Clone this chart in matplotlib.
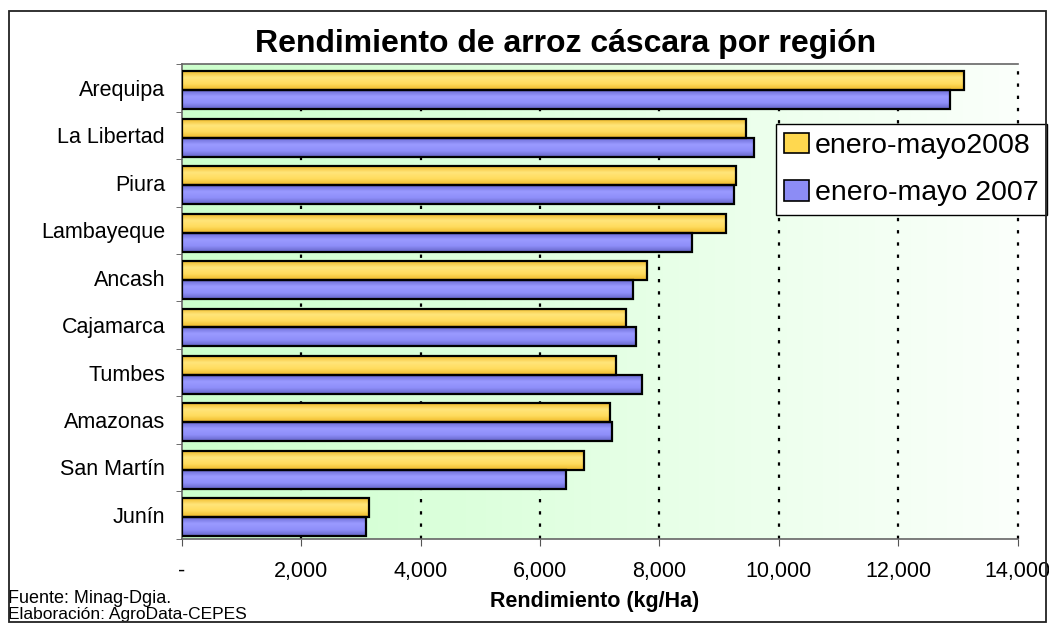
import numpy as np
import matplotlib
matplotlib.use("Agg")
import matplotlib.pyplot as plt
from matplotlib.colors import LinearSegmentedColormap
from matplotlib.patches import Rectangle

plt.rcParams['font.family'] = ['Liberation Sans', 'DejaVu Sans']

# datos (kg/Ha)
regiones = ['Arequipa', 'La Libertad', 'Piura', 'Lambayeque', 'Ancash',
            'Cajamarca', 'Tumbes', 'Amazonas', 'San Martín', 'Junín']
rend_2008 = [13100, 9450, 9280, 9110, 7800, 7440, 7270, 7170, 6740, 3140]
rend_2007 = [12860, 9590, 9250, 8540, 7560, 7610, 7700, 7210, 6430, 3080]
serie_2008 = 'enero-mayo2008'
serie_2007 = 'enero-mayo 2007'
xticks = [0, 2000, 4000, 6000, 8000, 10000, 12000, 14000]
xticklabels = ['-', '2,000', '4,000', '6,000', '8,000', '10,000', '12,000', '14,000']

fig = plt.figure(figsize=(10.49, 6.24), dpi=100)
ax = fig.add_axes([0.1732, 0.137, 0.797, 0.760])

y = np.arange(len(regiones))
h = 0.4
off = 0.05

# fondo degradado verde -> blanco
bg = LinearSegmentedColormap.from_list('bg', ['#ccffcc', '#fbfffb'])
ax.imshow(np.linspace(0, 1, 256).reshape(1, -1), cmap=bg, aspect='auto',
          extent=[0, 14000, len(regiones) - 0.5, -0.5], zorder=0)

for xv in xticks[1:]:
    ax.axvline(xv, color='black', lw=1.6, dashes=(1.5, 4), zorder=1, clip_on=False)

cmap_y = LinearSegmentedColormap.from_list('am', ['#f2bd2c', '#ffe57a', '#ffdc5e', '#eeb928'])
cmap_p = LinearSegmentedColormap.from_list('mo', ['#6c6cd6', '#9a9aff', '#8f8ffa', '#6565c8'])
grad = np.linspace(0, 1, 64).reshape(-1, 1)

b1 = ax.barh(y - h / 2 + off, rend_2008, height=h, facecolor='none',
             edgecolor='black', lw=1.6, zorder=3, label=serie_2008)
b2 = ax.barh(y + h / 2 + off, rend_2007, height=h, facecolor='none',
             edgecolor='black', lw=1.6, zorder=3, label=serie_2007)
for bars, cm in ((b1, cmap_y), (b2, cmap_p)):
    for r in bars:
        x0, y0 = r.get_x(), r.get_y()
        im = ax.imshow(grad, cmap=cm, aspect='auto', zorder=2,
                       extent=[x0, x0 + r.get_width(), y0 + r.get_height(), y0])
        im.set_clip_path(r)

ax.set_xlim(0, 14000)
ax.set_ylim(len(regiones) - 0.5, -0.5)

ax.set_xticks(xticks)
ax.set_xticklabels(xticklabels, fontsize=15.5)
ax.set_yticks(y)
ax.set_yticklabels(regiones, fontsize=15.5)
ax.set_yticks(np.arange(len(regiones) + 1) - 0.5, minor=True)
ax.tick_params(axis='y', which='major', length=0, pad=12)
ax.tick_params(axis='y', which='minor', length=4, color='#555555')
ax.tick_params(axis='x', length=5, color='#555555', pad=11)

for s in ['top', 'left', 'bottom']:
    ax.spines[s].set_color('#666666')
    ax.spines[s].set_linewidth(1.2)
ax.spines['right'].set_visible(False)

fig.text(0.539, 1 - 52 / 624, 'Rendimiento de arroz cáscara por región',
         fontsize=23, fontweight='bold', ha='center', va='baseline')
fig.text(0.567, 1 - 607 / 624, 'Rendimiento (kg/Ha)', fontsize=15.5,
         fontweight='bold', ha='center', va='baseline')
fig.text(0.008, 1 - 603 / 624, 'Fuente: Minag-Dgia.', fontsize=13, va='baseline')
fig.text(0.008, 1 - 607 / 624, 'Elaboración: AgroData-CEPES', fontsize=12.5, va='top')

leg = fig.legend(handles=[b1, b2], loc='upper left', bbox_to_anchor=(0.7395, 0.8008),
                 fontsize=20.5, frameon=True, fancybox=False, edgecolor='black',
                 framealpha=1, handlelength=0.88, handleheight=0.72,
                 handletextpad=0.2, borderpad=0.3, labelspacing=0.75,
                 borderaxespad=0)
leg.get_frame().set_linewidth(1.0)
for hnd, c in zip(leg.legend_handles, ['#ffd84f', '#8c8cf5']):
    hnd.set_facecolor(c)
    hnd.set_edgecolor('black')
    hnd.set_linewidth(1.2)

fig.patches.append(Rectangle((9 / 1049, 1 - 622 / 624), 1037 / 1049, 611 / 624,
                             transform=fig.transFigure, fill=False,
                             edgecolor='#222222', lw=1.3, zorder=10))

fig.savefig('out.png', dpi=100)
